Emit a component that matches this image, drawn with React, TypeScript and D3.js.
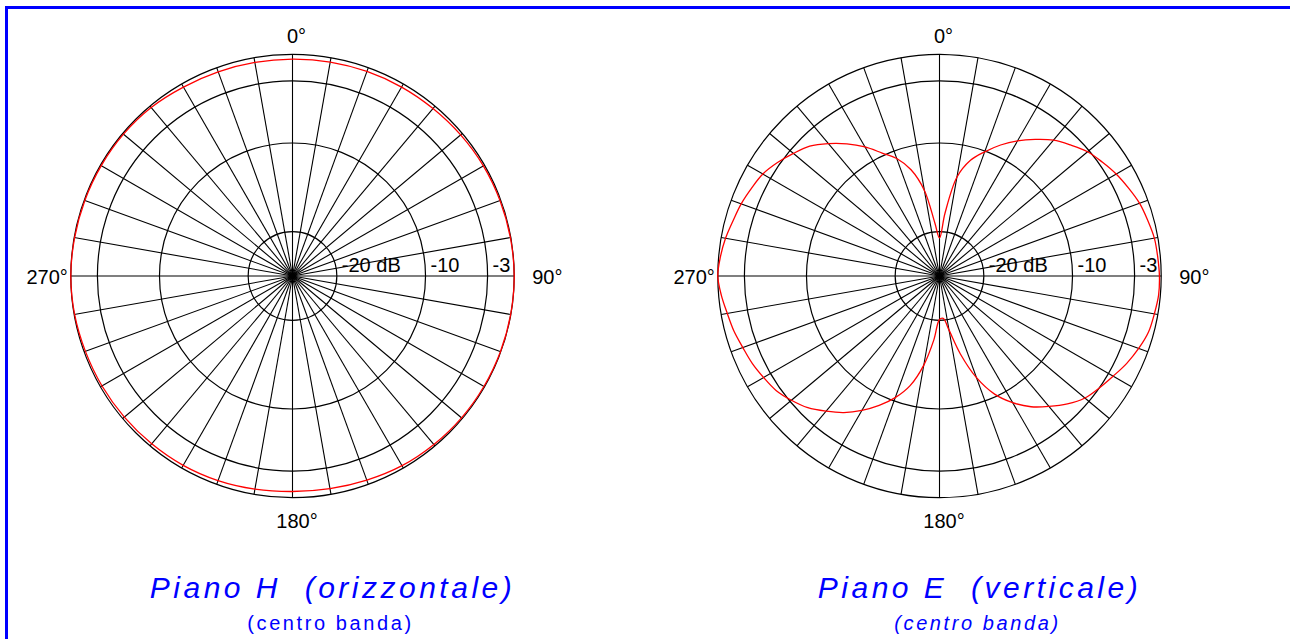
import React from "react";
import * as d3 from "d3";

// ---- data ----
const ringLevels = [0, -3, -10, -20];
const tickLevels = [-20, -10, -3];
const tickLabels = ["-20 dB", "-10", "-3"];
const spokeAngles = [
  0, 10, 20, 30, 40, 50, 60, 70, 80, 90, 100, 110, 120, 130, 140, 150, 160, 170,
  180, 190, 200, 210, 220, 230, 240, 250, 260, 270, 280, 290, 300, 310, 320, 330, 340, 350,
];
const angleLabels = ["0°", "90°", "180°", "270°"];

// Piano H (orizzontale)
const anglesH = [
  0, 10, 20, 30, 40, 50, 60, 70, 80, 90, 100, 110, 120, 130, 140, 150, 160, 170,
  180, 190, 200, 210, 220, 230, 240, 250, 260, 270, 280, 290, 300, 310, 320, 330, 340, 350,
];
const dbH = [
  -0.55, -0.5, -0.45, -0.4, -0.35, -0.25, -0.15, -0.1, -0.05, 0, -0.02, -0.05, -0.08, -0.12,
  -0.2, -0.3, -0.5, -0.65, -0.7, -0.6, -0.45, -0.35, -0.3, -0.25, -0.2, -0.15, -0.05, 0,
  -0.05, -0.08, -0.1, -0.12, -0.2, -0.4, -0.5, -0.55,
];

// Piano E (verticale)
const anglesE = [
  0, 5, 10, 15, 20, 25, 30, 35, 40, 45, 50, 55, 60, 65, 70, 75, 80, 85, 90, 95, 100, 105,
  110, 115, 120, 125, 130, 135, 140, 145, 150, 155, 160, 165, 170, 175, 180, 185, 190, 195,
  200, 205, 210, 215, 220, 225, 230, 235, 240, 245, 250, 255, 260, 265, 270, 275, 280, 285,
  290, 295, 300, 305, 310, 315, 320, 325, 330, 335, 340, 345, 350, 355,
];
const dbE = [
  -20.7, -17.9, -13.7, -11.5, -10.1, -8.7, -7.4, -6.2, -5.0, -4.1, -3.2, -2.6, -2.0, -1.5,
  -1.0, -0.7, -0.4, -0.3, -0.2, -0.2, -0.4, -0.6, -1.1, -1.7, -2.4, -3.0, -3.6, -4.6, -5.8,
  -7.0, -8.5, -10.3, -12.8, -15.9, -18.8, -20.2, -20.1, -17.8, -14.8, -12.2, -10.4, -8.9,
  -7.5, -6.2, -5.1, -4.0, -3.2, -2.5, -2.1, -1.7, -1.4, -1.0, -0.7, -0.3, 0, -0.2, -0.5,
  -0.9, -1.2, -1.6, -2.0, -2.7, -3.5, -4.3, -5.5, -6.8, -8.2, -9.7, -10.9, -12.6, -15.2, -19.0,
];

const titles = ["Piano H  (orizzontale)", "Piano E  (verticale)"];
const subtitles = ["(centro banda)", "(centro banda)"];

// ---- layout ----
const W = 1290;
const H = 639;
const R = 221.7;
const CY = 276;
const CX = [292.5, 939.5];
const FONT = "'Liberation Sans', Arial, Helvetica, sans-serif";

const rScale = d3.scaleLinear().domain([-25, 0]).range([0, R]);
const toRad = (a: number) => (a * Math.PI) / 180;

function Polar({
  cx,
  angles,
  db,
  title,
  subtitle,
  subItalic,
}: {
  cx: number;
  angles: number[];
  db: number[];
  title: string;
  subtitle: string;
  subItalic: boolean;
}) {
  const line = d3
    .lineRadial<number>()
    .angle((_d, i) => toRad(angles[i]))
    .radius((d) => rScale(d))
    .curve(d3.curveCatmullRomClosed.alpha(0.5));
  const path = line(db) || "";
  return (
    <g transform={`translate(${cx},${CY})`} fontFamily={FONT}>
      {spokeAngles.map((a) => (
        <line
          key={"s" + a}
          x1={0}
          y1={0}
          x2={R * Math.sin(toRad(a))}
          y2={-R * Math.cos(toRad(a))}
          stroke="#000"
          strokeWidth={1.1}
        />
      ))}
      {ringLevels.map((l) => (
        <circle key={"r" + l} r={rScale(l)} fill="none" stroke="#000" strokeWidth={1.2} />
      ))}
      <path d={path} fill="none" stroke="#ff0000" strokeWidth={1.3} />
      {tickLevels.map((l, i) => (
        <text key={"t" + l} x={rScale(l) + 5} y={-4} fontSize={20} fill="#000">
          {tickLabels[i]}
        </text>
      ))}
      <text x={4} y={-R - 11} fontSize={20} textAnchor="middle" fill="#000">
        {angleLabels[0]}
      </text>
      <text x={R + 18} y={8} fontSize={20} textAnchor="start" fill="#000">
        {angleLabels[1]}
      </text>
      <text x={4.5} y={R + 30.3} fontSize={20} textAnchor="middle" fill="#000">
        {angleLabels[2]}
      </text>
      <text x={-R - 3} y={8} fontSize={20} textAnchor="end" fill="#000">
        {angleLabels[3]}
      </text>
      <text
        x={40}
        y={322}
        fontSize={30}
        fontStyle="italic"
        letterSpacing={3.5}
        textAnchor="middle"
        fill="#0000ff"
        style={{ whiteSpace: "pre" }}
      >
        {title}
      </text>
      <text
        x={38}
        y={354}
        fontSize={20}
        fontStyle={subItalic ? "italic" : "normal"}
        letterSpacing={2.6}
        textAnchor="middle"
        fill="#0000ff"
        style={{ whiteSpace: "pre" }}
      >
        {subtitle}
      </text>
    </g>
  );
}

export default function App() {
  return (
    <div style={{ position: "absolute", left: 0, top: 0, width: W, height: H, background: "#fff" }}>
      <svg width={W} height={H} viewBox={`0 0 ${W} ${H}`} style={{ display: "block" }}>
        <rect x={0} y={0} width={W} height={H} fill="#fff" />
        <rect x={6.5} y={7.5} width={W + 40} height={H + 40} fill="none" stroke="#0000ff" strokeWidth={3} />
        <Polar cx={CX[0]} angles={anglesH} db={dbH} title={titles[0]} subtitle={subtitles[0]} subItalic={false} />
        <Polar cx={CX[1]} angles={anglesE} db={dbE} title={titles[1]} subtitle={subtitles[1]} subItalic={true} />
      </svg>
    </div>
  );
}
